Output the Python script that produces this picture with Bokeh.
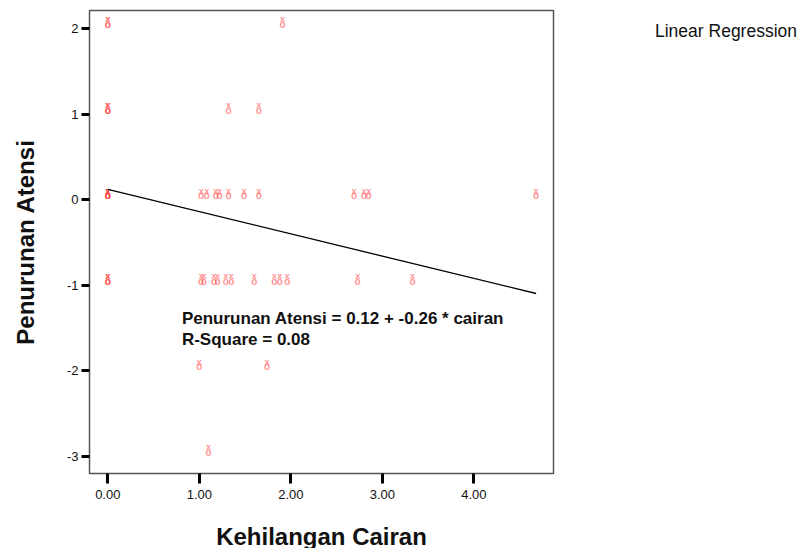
from bokeh.plotting import figure
from bokeh.models import Range1d, FixedTicker, Label, ColumnDataSource, Div
from bokeh.layouts import row
from bokeh.core.properties import value
from bokeh.embed import file_html
from bokeh.resources import INLINE

# Data
cairan = [0, 0, 1.91,
          0, 0, 0, 1.32, 1.65,
          0, 0, 0, 0, 0, 1.02, 1.08, 1.18, 1.22, 1.32, 1.49, 1.65, 2.69, 2.80, 2.85, 4.68,
          0, 0, 0, 1.02, 1.05, 1.16, 1.20, 1.29, 1.35, 1.60, 1.82, 1.88, 1.96, 2.73, 3.33,
          1.00, 1.74,
          1.10]
atensi = [2.07, 2.07, 2.07,
          1.07, 1.07, 1.07, 1.07, 1.07,
          0.07, 0.07, 0.07, 0.07, 0.07, 0.07, 0.07, 0.07, 0.07, 0.07, 0.07, 0.07, 0.07, 0.07, 0.07, 0.07,
          -0.93, -0.93, -0.93, -0.93, -0.93, -0.93, -0.93, -0.93, -0.93, -0.93, -0.93, -0.93, -0.93, -0.93, -0.93,
          -1.93, -1.93,
          -2.93]
intercept = 0.12
slope = -0.26
r_square = 0.08
x_ticks = [0, 1, 2, 3, 4]
y_ticks = [-3, -2, -1, 0, 1, 2]

FONT = "Liberation Sans"

p = figure(width=640, height=548, output_backend="svg", toolbar_location=None,
           x_range=Range1d(-0.2, 4.87), y_range=Range1d(-3.2, 2.21),
           min_border_left=89, min_border_right=87, min_border_top=10, min_border_bottom=75)
p.frame_width = 464
p.frame_height = 463
p.grid.visible = False
p.outline_line_color = "#555555"
p.outline_line_width = 1.5
p.background_fill_color = "white"
p.border_fill_color = "white"

src = ColumnDataSource(dict(x=cairan, y=atensi))
mcol = "#ff4a4a"
p.text(x="x", y="y", text=value("x"), source=src, text_font=value(FONT),
       text_font_size="9px", text_font_style="bold", text_align="center", text_baseline="middle",
       y_offset=-3, text_color=mcol, text_alpha=0.6)
p.text(x="x", y="y", text=value("o"), source=src, text_font=value(FONT),
       text_font_size="10px", text_font_style="bold", text_align="center", text_baseline="middle",
       y_offset=2, text_color=mcol, text_alpha=0.6)

xmax = max(cairan)
p.line([0, xmax], [intercept, intercept + slope * xmax], line_color="black", line_width=1.3)

for ax in (p.xaxis[0], p.yaxis[0]):
    ax.axis_line_color = None
    ax.major_tick_in = 0
    ax.major_tick_line_width = 3
    ax.major_tick_line_color = "black"
    ax.minor_tick_line_color = None
    ax.major_label_text_font = FONT
    ax.major_label_text_font_size = "13px"
    ax.major_label_text_color = "#111111"
    ax.axis_label_text_font = FONT
    ax.axis_label_text_font_size = "24px"
    ax.axis_label_text_font_style = "bold"
    ax.axis_label_text_color = "#111111"

p.xaxis.ticker = FixedTicker(ticks=x_ticks)
p.xaxis.major_label_overrides = {t: f"{t:.2f}" for t in x_ticks}
p.xaxis.major_tick_out = 10
p.xaxis.major_label_standoff = 6
p.xaxis.axis_label = "Kehilangan Cairan"
p.xaxis.axis_label_standoff = 21

p.yaxis.ticker = FixedTicker(ticks=y_ticks)
p.yaxis.major_label_overrides = {t: str(t) for t in y_ticks}
p.yaxis.major_tick_out = 8
p.yaxis.major_label_standoff = 3
p.yaxis.axis_label = "Penurunan Atensi"
p.yaxis.axis_label_standoff = 25

eq1 = f"Penurunan Atensi = {intercept:.2f} + {slope:.2f} * cairan"
eq2 = f"R-Square = {r_square:.2f}"
p.add_layout(Label(x=0.81, y=-1.39, text=eq1, text_font=FONT, text_font_size="17px",
                   text_font_style="bold", text_baseline="middle", text_color="#111111"))
p.add_layout(Label(x=0.81, y=-1.635, text=eq2, text_font=FONT, text_font_size="17px",
                   text_font_style="bold", text_baseline="middle", text_color="#111111"))

side = Div(text="Linear Regression", width=158, height=548, margin=(0, 0, 0, 0),
           styles={"font-family": "Liberation Sans", "font-size": "17.5px", "color": "#111111",
                   "padding-left": "15px", "padding-top": "19px", "white-space": "nowrap",
                   "box-sizing": "border-box"})

layout = row(p, side, spacing=0)
open("out.html", "w").write(file_html(layout, INLINE))
